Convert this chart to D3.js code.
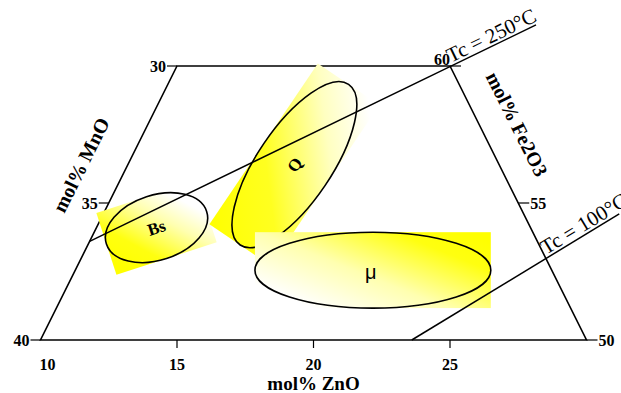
<!DOCTYPE html>
<html>
<head>
<meta charset="utf-8">
<script src="https://cdn.jsdelivr.net/npm/d3@7"></script>
<style>
body { margin: 0; background: #fff; }
svg { display: block; font-family: "Liberation Serif", "Times New Roman", serif; }
</style>
</head>
<body>
<svg id="chart"></svg>
<script>
// Data ======>

var znoTicks = [10, 15, 20, 25]
var mnoTicks = [30, 35, 40]
var fe2o3Ticks = [60, 55, 50]

var regionNames = ['Bs', 'Q', 'μ']
var regionZnO = [12.2, 16.1, 20.9]      // centre of each field
var regionFe2O3 = [54.1, 56.4, 52.55]
var regionLength = [1.93, 3.55, 4.32]   // semi-axes, in mol% ZnO units
var regionWidth = [1.19, 1.36, 1.39]
var regionTilt = [-18, -56, 0]

var tcNames = ['Tc = 250°C', 'Tc = 100°C']
var tcZnO = [[10, 22.4], [23.6, 28.9]]
var tcFe2O3 = [[53.6, 61.5], [50, 54.6]]

// Setup ======>

var svgWidth = 621, svgHeight = 393

var svg = d3.select('#chart')
    .attr('width', svgWidth)
    .attr('height', svgHeight)

var x = d3.scaleLinear().domain([10, 30]).range([40.5, 586.5]) // ZnO along the bottom
var y = d3.scaleLinear().domain([50, 60]).range([340, 66])     // Fe2O3 rows
var unit = x(11) - x(10)

// ternary position from ZnO and Fe2O3 (MnO is the rest)
function px(z, f) { return x(z + (f - 50) / 2) }
function py(f) { return y(f) }

var line = d3.line()

// Frame ======>

var corners = [[10, 50], [30, 50], [20, 60], [10, 60]]
svg.append('path')
    .attr('d', line(corners.map(function(c) { return [px(c[0], c[1]), py(c[1])] })) + 'Z')
    .attr('fill', 'none')
    .attr('stroke', '#000')
    .attr('stroke-width', 1.6)

// bottom axis, ZnO
svg.selectAll('.zt')
    .data(znoTicks.slice(1))
    .enter()
    .append('line')
    .attr('x1', function(d) { return x(d) })
    .attr('x2', function(d) { return x(d) })
    .attr('y1', y(50))
    .attr('y2', y(50) + 8)
    .attr('stroke', '#000')
    .attr('stroke-width', 1.2)

svg.selectAll('.zl')
    .data(znoTicks)
    .enter()
    .append('text')
    .attr('x', function(d, i) { return x(d) + (i == 0 ? 7 : 0) })
    .attr('y', y(50) + 30)
    .attr('text-anchor', 'middle')
    .attr('font-size', 16)
    .attr('font-weight', 'bold')
    .text(function(d) { return d })

// left axis, MnO (ZnO = 10)
svg.selectAll('.mt')
    .data(mnoTicks)
    .enter()
    .append('line')
    .attr('x1', function(d) { return px(10, 90 - d) })
    .attr('x2', function(d) { return px(10, 90 - d) - 10 })
    .attr('y1', function(d) { return py(90 - d) })
    .attr('y2', function(d) { return py(90 - d) })
    .attr('stroke', '#000')
    .attr('stroke-width', 1.2)

svg.selectAll('.ml')
    .data(mnoTicks)
    .enter()
    .append('text')
    .attr('x', function(d) { return px(10, 90 - d) - 11 })
    .attr('y', function(d) { return py(90 - d) + 5.5 })
    .attr('text-anchor', 'end')
    .attr('font-size', 16)
    .attr('font-weight', 'bold')
    .text(function(d) { return d })

// right axis, Fe2O3 (MnO = 20)
svg.selectAll('.ft')
    .data(fe2o3Ticks)
    .enter()
    .append('line')
    .attr('x1', function(d) { return px(80 - d, d) })
    .attr('x2', function(d) { return px(80 - d, d) + 11 })
    .attr('y1', function(d) { return py(d) })
    .attr('y2', function(d) { return py(d) })
    .attr('stroke', '#000')
    .attr('stroke-width', 1.2)

svg.selectAll('.fl')
    .data(fe2o3Ticks)
    .enter()
    .append('text')
    .attr('x', function(d, i) { return px(80 - d, d) + (i == 0 ? 0 : 12) })
    .attr('y', function(d, i) { return py(d) + (i == 0 ? -1 : 5.5) })
    .attr('text-anchor', function(d, i) { return i == 0 ? 'end' : 'start' })
    .attr('font-size', 16)
    .attr('font-weight', 'bold')
    .text(function(d) { return d })

// axis titles
svg.append('text')
    .attr('x', x(20))
    .attr('y', 390)
    .attr('text-anchor', 'middle')
    .attr('font-size', 19)
    .attr('font-weight', 'bold')
    .text('mol% ZnO')

var edgeAngle = Math.atan2(py(60) - py(50), px(10, 60) - px(10, 50)) * 180 / Math.PI

svg.append('text')
    .attr('transform', 'translate(81,165) rotate(' + edgeAngle + ')')
    .attr('text-anchor', 'middle')
    .attr('dy', '0.35em')
    .attr('font-size', 20)
    .attr('font-weight', 'bold')
    .text('mol% MnO')

svg.append('text')
    .attr('transform', 'translate(517,124) rotate(' + (-edgeAngle) + ')')
    .attr('text-anchor', 'middle')
    .attr('dy', '0.35em')
    .attr('font-size', 20)
    .attr('font-weight', 'bold')
    .text('mol% Fe2O3')

// Fields ======>

var fills = {
    'Bs': { v: [0, 0.8, 1, 0.2], stops: [[0, '#ffff00'], [0.25, '#ffff10'], [0.6, '#ffffb0'], [0.85, '#ffffff']] },
    'Q': { v: [0, 0, 1.2, 0.52], stops: [[0, '#ffff00'], [0.35, '#ffff20'], [0.7, '#ffffc0'], [0.95, '#ffffff']] },
    'μ': { v: [1, 0.1, 0, 0.9], stops: [[0, '#ffff00'], [0.2, '#ffff10'], [0.55, '#ffffb0'], [0.9, '#ffffff']] }
}

var defs = svg.append('defs')
regionNames.forEach(function(name, i) {
    var f = fills[name]
    var g = defs.append('linearGradient')
        .attr('id', 'grad' + i)
        .attr('x1', f.v[0]).attr('y1', f.v[1])
        .attr('x2', f.v[2]).attr('y2', f.v[3])
    f.stops.forEach(function(s) {
        g.append('stop').attr('offset', s[0]).attr('stop-color', s[1])
    })
})

var fields = svg.selectAll('.field')
    .data(regionNames)
    .enter()
    .append('g')
    .attr('transform', function(d, i) {
        return 'translate(' + px(regionZnO[i], regionFe2O3[i]) + ',' + py(regionFe2O3[i]) + ') rotate(' + regionTilt[i] + ')'
    })

fields.append('rect')
    .attr('x', function(d, i) { return -regionLength[i] * unit })
    .attr('y', function(d, i) { return -regionWidth[i] * unit })
    .attr('width', function(d, i) { return 2 * regionLength[i] * unit })
    .attr('height', function(d, i) { return 2 * regionWidth[i] * unit })
    .attr('fill', function(d, i) { return 'url(#grad' + i + ')' })

fields.append('ellipse')
    .attr('rx', function(d, i) { return regionLength[i] * unit })
    .attr('ry', function(d, i) { return regionWidth[i] * unit })
    .attr('fill', 'none')
    .attr('stroke', '#000')
    .attr('stroke-width', 1.6)

fields.append('text')
    .attr('text-anchor', 'middle')
    .attr('dy', '0.35em')
    .attr('font-size', function(d) { return d == 'μ' ? 20 : 17 })
    .attr('font-weight', function(d) { return d == 'μ' ? 'normal' : 'bold' })
    .attr('font-family', function(d) { return d == 'μ' ? '"Liberation Sans", Arial, sans-serif' : null })
    .attr('transform', function(d, i) { return d == 'μ' ? 'translate(-2,2)' : null })
    .text(function(d) { return d })

// Curie temperature lines ======>

tcNames.forEach(function(name, i) {
    var pts = tcZnO[i].map(function(z, j) { return [px(z, tcFe2O3[i][j]), py(tcFe2O3[i][j])] })
    svg.append('path')
        .attr('d', line(pts))
        .attr('stroke', '#000')
        .attr('stroke-width', 1.5)
        .attr('fill', 'none')

    // label starts where the line meets the Fe2O3 edge (MnO = 20)
    var z0 = tcZnO[i][0], f0 = tcFe2O3[i][0]
    var dz = tcZnO[i][1] - z0, df = tcFe2O3[i][1] - f0
    var t = (80 - z0 - f0) / (dz + df)
    var zc = z0 + t * dz, fc = f0 + t * df
    var ang = Math.atan2(pts[1][1] - pts[0][1], pts[1][0] - pts[0][0]) * 180 / Math.PI
    svg.append('text')
        .attr('transform', 'translate(' + px(zc, fc) + ',' + py(fc) + ') rotate(' + ang + ')')
        .attr('x', 2)
        .attr('y', -3)
        .attr('font-size', 21)
        .text(name)
})
</script>
</body>
</html>
